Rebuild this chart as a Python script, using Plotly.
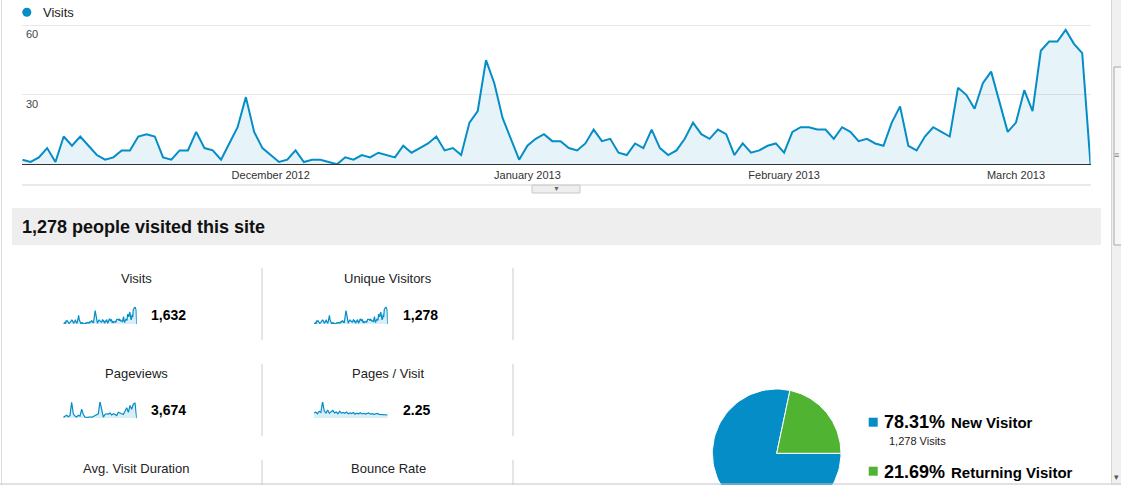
import numpy as np
import pandas as pd
import plotly.graph_objects as go

W, H = 1121, 485
FONT = "Liberation Sans, Arial, sans-serif"
BLUE = "#058dc7"
GREEN = "#50b432"

# daily visits, 1 Nov 2012 .. 10 Mar 2013
visits = [2, 1, 3, 7, 1, 12, 8, 12, 8, 4, 2, 3, 6, 6, 12, 13, 12, 3, 2, 6,
          6, 14, 7, 6, 2, 9, 16, 29, 14, 7, 4, 1, 2, 6, 1, 2, 2, 1, 0, 3,
          2, 4, 3, 5, 4, 3, 8, 5, 7, 9, 12, 6, 7, 4, 18, 23, 45, 35, 20, 11,
          2, 8, 11, 13, 10, 10, 7, 6, 9, 15, 10, 11, 5, 4, 9, 7, 15, 7, 4, 6,
          11, 18, 13, 11, 15, 13, 4, 9, 5, 6, 8, 9, 5, 14, 16, 16, 15, 15, 11, 16,
          14, 10, 11, 9, 8, 18, 25, 8, 6, 12, 16, 14, 12, 33, 30, 24, 35, 40, 27, 14,
          18, 32, 23, 49, 53, 53, 58, 52, 48, 0]
start_date = "2012-11-01"

month_ticks = ["2012-12-01", "2013-01-01", "2013-02-01", "2013-03-01"]
month_labels = ["December 2012", "January 2013", "February 2013", "March 2013"]
y_ticks = [30, 60]

# sparklines (coarse, roughly every third day)
pageviews = [6, 12, 20, 10, 18, 105, 30, 15, 8, 20, 14, 60, 25, 8, 5, 6, 10, 6,
             12, 20, 25, 30, 110, 50, 8, 25, 30, 28, 35, 22, 30, 25, 18, 40, 32,
             30, 25, 45, 70, 40, 85, 60, 95, 100, 0]
pages_per_visit = [2.5, 3.0, 2.2, 3.4, 2.8, 8.0, 3.5, 2.6, 4.0, 2.4, 3.2, 3.8,
                   2.6, 3.0, 2.2, 3.4, 2.5, 2.8, 2.4, 3.0, 2.2, 2.6, 2.3, 2.8,
                   2.0, 2.5, 2.2, 2.7, 2.1, 2.4, 2.0, 2.3, 2.6, 2.0, 2.2, 1.9,
                   2.1, 2.4, 1.9, 1.8, 2.0, 1.7, 1.8, 1.6]

metric_names = ["Visits", "Unique Visitors", "Pageviews", "Pages / Visit",
                "Avg. Visit Duration", "Bounce Rate"]
metric_values = ["1,632", "1,278", "3,674", "2.25"]

visitor_types = ["New Visitor", "Returning Visitor"]
visitor_share = [78.31, 21.69]
new_visitor_visits = "1,278"


def px(x):
    return x / W


def py(y):
    return 1 - y / H


def label(x, y, text, size=13, bold=False, xanchor="left", color="#222"):
    return dict(x=px(x), y=py(y), xref="paper", yref="paper",
                text=f"<b>{text}</b>" if bold else text, showarrow=False,
                xanchor=xanchor, yanchor="middle",
                font=dict(size=size, color=color, family=FONT))


def line(x0, y0, x1, y1, color="#d0d0d0", width=1):
    return dict(type="line", xref="paper", yref="paper", x0=px(x0), y0=py(y0),
                x1=px(x1), y1=py(y1), line=dict(color=color, width=width))


def rect(x0, y0, x1, y1, fill, border=None):
    return dict(type="rect", xref="paper", yref="paper", x0=px(x0), y0=py(y0),
                x1=px(x1), y1=py(y1), fillcolor=fill, layer="below",
                line=dict(color=border or fill, width=1 if border else 0))


dates = pd.date_range(start_date, periods=len(visits), freq="D")

fig = go.Figure()

# main visits chart
fig.add_trace(go.Scatter(
    x=dates, y=visits, mode="lines",
    line=dict(color=BLUE, width=2),
    fill="tozeroy", fillcolor="rgba(5,141,199,0.1)",
    hoverinfo="skip", showlegend=False
))

# sparklines
sparks = [(visits, "2"), (visits, "3"), (pageviews, "4"), (pages_per_visit, "5")]
for vals, n in sparks:
    fig.add_trace(go.Scatter(
        x=list(range(len(vals))), y=vals, mode="lines",
        line=dict(color=BLUE, width=1.2),
        fill="tozeroy", fillcolor="rgba(5,141,199,0.15)",
        xaxis="x" + n, yaxis="y" + n, hoverinfo="skip", showlegend=False
    ))

# pie drawn as wedges, starting at 3 o'clock and going clockwise
angle = 90.0
for name, share, col in zip(visitor_types, visitor_share, [BLUE, GREEN]):
    span = share / 100 * 360
    t = np.radians(np.linspace(angle, angle + span, 90))
    fig.add_trace(go.Scatter(
        x=np.concatenate([[0], np.sin(t), [0]]),
        y=np.concatenate([[0], np.cos(t), [0]]),
        mode="lines", fill="toself", fillcolor=col,
        line=dict(color="white", width=1),
        xaxis="x6", yaxis="y6", name=name, hoverinfo="skip", showlegend=False
    ))
    angle += span

hidden = dict(visible=False, fixedrange=True)
spark_x = {"2": (63.3, 136.7), "3": (314, 387.7), "4": (63.3, 136.7), "5": (314, 387.7)}
spark_y = {"2": (324, 306.7), "3": (324, 306.7), "4": (418.3, 401.7), "5": (418.3, 401.7)}
axes = {}
for vals, n in sparks:
    axes["xaxis" + n] = dict(hidden, domain=[px(spark_x[n][0]), px(spark_x[n][1])],
                             range=[0, len(vals) - 1], anchor="y" + n)
    axes["yaxis" + n] = dict(hidden, domain=[py(spark_y[n][0]), py(spark_y[n][1])],
                             range=[0, max(vals)], anchor="x" + n)

pie_cx, pie_cy, pie_r = 776.7, 453.3, 64.3
axes["xaxis6"] = dict(hidden, domain=[px(pie_cx - pie_r), px(pie_cx + pie_r)],
                      range=[-1, 1], anchor="y6")
axes["yaxis6"] = dict(hidden, domain=[0, py(pie_cy - pie_r)],
                      range=[-(H - pie_cy) / pie_r, 1], anchor="x6")

shapes = [
    # page frame and scrollbar
    line(1.5, 0, 1.5, H, "#dcdcdc"),
    line(0, 484, W, 484, "#c4c4cc"),
    rect(1112, 0, W, H, "#f0f0f0"),
    line(1111.5, 0, 1111.5, H, "#d6d6d6"),
    rect(1114, 67, W + 2, 245, "#f7f7f7", "#a8a8a8"),
    # chart legend dot
    dict(type="circle", xref="paper", yref="paper", x0=px(22.3), x1=px(31.3),
         y0=py(7.8), y1=py(16.8), fillcolor=BLUE, line=dict(width=0)),
    # chart bottom border + toggle tab
    line(22, 185, 1091, 185, "#d4d4d4"),
    rect(532, 185, 580, 193, "#eeeeee", "#c8c8c8"),
    # header bar
    rect(12, 208, 1101, 245, "#eeeeee"),
    # metric dividers
    line(262, 268, 262, 340, "#cccccc"), line(513, 268, 513, 340, "#cccccc"),
    line(262, 364, 262, 436, "#cccccc"), line(513, 364, 513, 436, "#cccccc"),
    line(262, 460, 262, 485, "#cccccc"), line(513, 460, 513, 485, "#cccccc"),
    # pie legend squares
    rect(868.7, 417.7, 877.7, 426.7, BLUE),
    rect(868.7, 466.7, 877.7, 475.7, GREEN),
]

annotations = [
    label(41, 12.3, "Visits", 13),
    label(556, 189, "▼", 7, xanchor="center", color="#666"),
    label(20, 226.5, f"{metric_values[1]} people visited this site", 18, bold=True, color="#111"),
    label(1116.5, 155, "≡", 9, xanchor="center", color="#777"),
    label(1116.5, 477, "▾", 9, xanchor="center", color="#555"),
]
# y tick labels sit just under their grid lines, inside the plot
for v in y_ticks:
    annotations.append(dict(x=px(24), y=v, xref="paper", yref="y", text=str(v),
                            showarrow=False, xanchor="left", yanchor="top", yshift=-1,
                            font=dict(size=11, color="#444", family=FONT)))
label_pos = [(136, 278), (388, 278), (136, 373), (388, 373), (136, 468), (388, 468)]
for name, (x, y) in zip(metric_names, label_pos):
    annotations.append(label(x, y, name, 13, xanchor="center"))
value_pos = [(149, 315), (401, 315), (149, 410), (401, 410)]
for val, (x, y) in zip(metric_values, value_pos):
    annotations.append(label(x, y, val, 14, bold=True, color="#000"))

legend_y = [421.7, 471.7]
for name, share, y in zip(visitor_types, visitor_share, legend_y):
    annotations.append(label(882, y, f"{share:.2f}%", 18, bold=True, color="#000"))
    annotations.append(label(949, y + 0.5, name, 15, bold=True, color="#000"))
annotations.append(label(886.7, 441, f"{new_visitor_visits} Visits", 11, color="#222"))

y_top = 61
fig.update_layout(
    width=W, height=H,
    margin=dict(l=0, r=0, t=0, b=0),
    paper_bgcolor="white", plot_bgcolor="white",
    font=dict(family=FONT, color="#333"),
    showlegend=False,
    xaxis=dict(
        domain=[px(22.3), px(1090.5)],
        range=[dates[0], dates[-1]],
        tickvals=month_ticks, ticktext=month_labels,
        tickfont=dict(size=11, color="#333"),
        showgrid=False, zeroline=False, ticks="",
        showline=True, linecolor="#333", linewidth=1,
        fixedrange=True,
    ),
    yaxis=dict(
        domain=[py(164.3), py(164.3 - (164.3 - 25.3) * y_top / 60)],
        range=[0, y_top],
        tickvals=y_ticks, showticklabels=False,
        showgrid=True, gridcolor="#e8e8e8", gridwidth=1,
        zeroline=False, showline=False, ticks="",
        fixedrange=True,
    ),
    shapes=shapes,
    annotations=annotations,
    **axes,
)

fig.write_html("out.html", config={"displayModeBar": False},
               post_script="document.body.style.margin='0';")
